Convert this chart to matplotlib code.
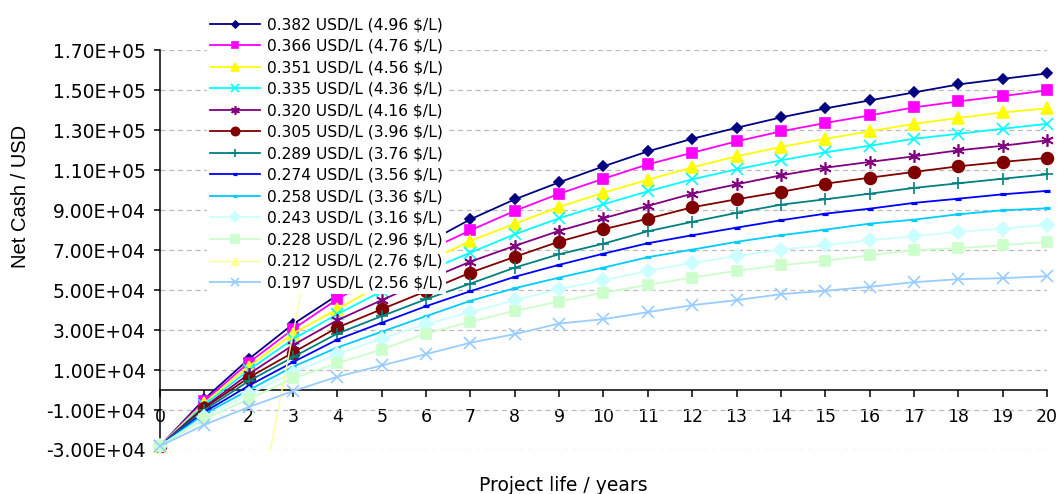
import numpy as np
import matplotlib
matplotlib.use("Agg")
import matplotlib.pyplot as plt

# Project years and net cash (USD) per fuel price
years = list(range(0, 21))

labels = [
    "0.382 USD/L (4.96 $/L)",
    "0.366 USD/L (4.76 $/L)",
    "0.351 USD/L (4.56 $/L)",
    "0.335 USD/L (4.36 $/L)",
    "0.320 USD/L (4.16 $/L)",
    "0.305 USD/L (3.96 $/L)",
    "0.289 USD/L (3.76 $/L)",
    "0.274 USD/L (3.56 $/L)",
    "0.258 USD/L (3.36 $/L)",
    "0.243 USD/L (3.16 $/L)",
    "0.228 USD/L (2.96 $/L)",
    "0.212 USD/L (2.76 $/L)",
    "0.197 USD/L (2.56 $/L)",
]

# values in thousands of USD
cash_382 = [-28, -4.5, 15.5, 33, 47.5, 61, 73.5, 85.5, 95.5, 104, 112, 119.5, 125.8, 131.3, 136.5, 141, 145, 149, 153, 155.8, 158.5]
cash_366 = [-28, -5.5, 13.7, 30.5, 45.5, 58, 69.5, 80, 89.7, 98.3, 105.8, 113, 118.8, 124.5, 129.5, 133.7, 137.5, 141.5, 144.5, 147.2, 150]
cash_351 = [-28, -6.5, 11.7, 28.3, 40.5, 53, 64, 74.7, 83.3, 91.7, 98.8, 105.3, 111.5, 117, 121.7, 125.8, 129.5, 133.3, 136.2, 139, 141]
cash_335 = [-28, -7.5, 10, 25.5, 38, 49.5, 59.5, 68.8, 78, 86, 93, 99.5, 105.5, 110.5, 115, 119, 122.3, 125.8, 128.3, 130.8, 133.3]
cash_320 = [-28, -8.5, 8, 22.5, 35, 45, 55, 64.3, 72.2, 79.7, 86, 92.2, 98.3, 103, 107.5, 111.3, 114.2, 117, 120, 122.3, 125]
cash_305 = [-28, -9, 6.2, 18.8, 31.3, 40.5, 49.5, 58.8, 66.7, 74.3, 80.5, 85.8, 91.5, 95.5, 99.2, 103.3, 106.3, 109.2, 112, 114.2, 116.2]
cash_289 = [-28, -10, 4.5, 16.5, 28.3, 37, 45.5, 53.3, 61.3, 68, 73.3, 79.5, 84.2, 88.7, 92.8, 95.5, 98.3, 101.2, 103.5, 105.8, 108]
cash_274 = [-28, -11, 2.2, 14, 25.3, 33.7, 42, 49.5, 56.7, 62.7, 68.3, 73.5, 77.5, 81.3, 85, 88.3, 90.8, 93.7, 95.8, 98, 99.7]
cash_258 = [-28, -12, 0, 11.7, 21.3, 29.2, 37, 44.7, 51, 56.3, 61.3, 66.5, 70.3, 74.2, 77.5, 80.3, 83.3, 85.3, 88, 90, 91]
cash_243 = [-28, -13.5, -2, 8.7, 18, 25.8, 33, 39, 45, 50.5, 55, 59.7, 63.7, 67, 70.3, 72.5, 75, 77, 79.2, 80.8, 82.8]
cash_228 = [-28, -14.5, -4.5, 5.8, 13.5, 20.3, 28.3, 34.2, 39.7, 44.3, 48.8, 52.7, 56.3, 59.7, 62.5, 64.7, 67.5, 70, 71, 72.5, 74.2]
cash_197 = [-28, -17.4, -8.5, -0.5, 6.7, 12.3, 18, 23.7, 28, 33.3, 35.5, 39, 42.5, 45, 48, 49.7, 51.7, 54, 55.5, 56, 57]

# the 0.212 series shows up only as a stray straight line in the original
stray_x = [2.40, 4.33]
stray_y = [-40, 180]

y_ticks = list(range(-30000, 170001, 20000))


def main():
    fig = plt.figure(figsize=(10.61, 4.94), dpi=100)
    ax = fig.add_axes([0.1508, 0.0891, 0.836, 0.8087])

    series = [cash_382, cash_366, cash_351, cash_335, cash_320, cash_305,
              cash_289, cash_274, cash_258, cash_243, cash_228, None, cash_197]
    colors = ["#000080", "#FF00FF", "#FFFF00", "#00FFFF", "#800080", "#800000",
              "#008080", "#0000FF", "#00CCFF", "#CCFFFF", "#CCFFCC", "#FFFF99", "#99CCFF"]
    markers = ["D", "s", "^", "x", (6, 2, 0), "o", "+", "_", "_", "D", "s", "^", "x"]
    sizes = [5, 7, 8, 8, 9, 8.5, 9, 4, 5, 7, 7.5, 8, 9]

    for vals, lab, c, m, ms in zip(series, labels, colors, markers, sizes):
        mew = 1.2
        if m == "_":
            mew = 2.3
        if vals is None:
            ax.plot(stray_x, np.array(stray_y) * 1000, color=c, lw=1.0, marker=m,
                    ms=ms, mec=c, mfc=c, label=lab, zorder=3)
            continue
        ax.plot(years, np.array(vals) * 1000, color=c, lw=1.3, marker=m, ms=ms,
                mec=c, mfc=c, mew=mew, label=lab, clip_on=False, zorder=3)

    ax.set_xlim(0, 20)
    ax.set_ylim(-30000, 170000)
    ax.set_xticks(years)
    ax.set_yticks(y_ticks)
    ax.set_yticklabels([f"{v:.2E}" for v in y_ticks])

    ax.spines["top"].set_visible(False)
    ax.spines["right"].set_visible(False)
    ax.spines["bottom"].set_position(("data", 0))
    ax.spines["bottom"].set_zorder(2)
    for s in ["left", "bottom"]:
        ax.spines[s].set_linewidth(1.1)

    ax.tick_params(axis="x", direction="out", length=4.8, width=1.1, pad=8, labelsize=12.5)
    ax.tick_params(axis="y", direction="out", length=4.3, width=1.1, pad=6, labelsize=13.5)
    ax.yaxis.grid(True, color="#BBBBBB", linestyle=(0, (4, 3)), linewidth=0.9)
    ax.set_axisbelow(True)

    ax.set_ylabel("Net Cash / USD", family="Liberation Sans", fontsize=14.5)
    ax.yaxis.set_label_coords(-0.147, 0.635)
    fig.text(0.531, 0.018, "Project life / years", ha="center", va="center", fontsize=13.5)

    leg = ax.legend(loc="upper left", bbox_to_anchor=(207 / 1061, 1 - 14 / 494),
                    bbox_transform=fig.transFigure, fontsize=11.2, frameon=True,
                    fancybox=False, edgecolor="none", facecolor="white", framealpha=1,
                    borderpad=0.2, labelspacing=0.42, handlelength=3.2,
                    handletextpad=0.45, markerscale=0.7, borderaxespad=0)
    leg.set_zorder(10)

    fig.savefig("out.png", dpi=100)


if __name__ == "__main__":
    main()
